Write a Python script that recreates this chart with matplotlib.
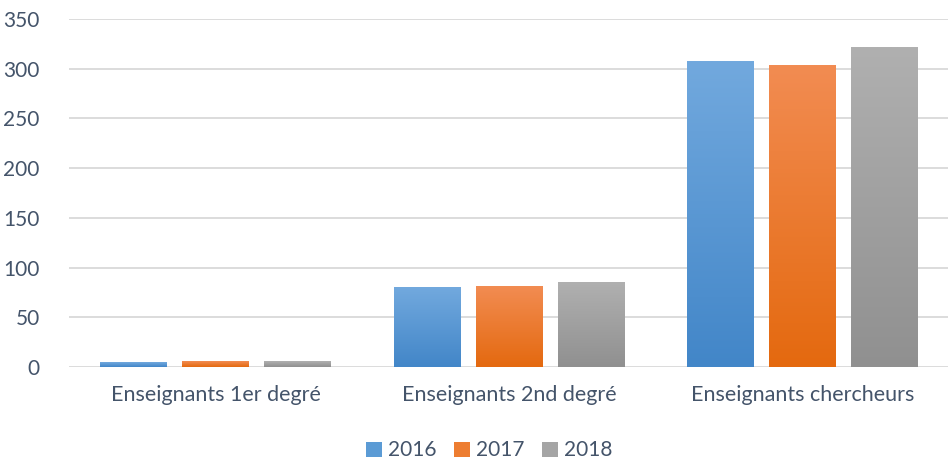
import numpy as np
import matplotlib
matplotlib.use("Agg")
import matplotlib.pyplot as plt
from matplotlib.colors import LinearSegmentedColormap
from matplotlib.patches import Patch

categories = ["Enseignants 1er degré", "Enseignants 2nd degré", "Enseignants chercheurs"]
annees = ["2016", "2017", "2018"]
valeurs_2016 = [5, 80, 307]
valeurs_2017 = [6, 81, 303]
valeurs_2018 = [6, 85, 321]

# couleurs haut / bas du dégradé de chaque série
degrades = [("#72A9DE", "#4286C8"), ("#F28C52", "#E4690F"), ("#B0B0B0", "#909090")]
couleurs_legende = ["#5B9BD5", "#ED7D31", "#A5A5A5"]

plt.rcParams["font.family"] = ["Lato", "DejaVu Sans"]

fig = plt.figure(figsize=(9.48, 4.63), dpi=100)
ax = fig.add_axes([0.0728, 0.207, 0.9285, 0.752])

x = np.arange(len(categories))
pas = 0.279
largeur = 0.228
series = [valeurs_2016, valeurs_2017, valeurs_2018]

for k, vals in enumerate(series):
    cmap = LinearSegmentedColormap.from_list("d%d" % k, [degrades[k][1], degrades[k][0]])
    grad = np.linspace(0, 1, 256).reshape(-1, 1)
    barres = ax.bar(x + (k - 1) * pas, vals, width=largeur, color="none", zorder=3)
    for b in barres:
        x0 = b.get_x()
        h = b.get_height()
        ax.imshow(grad, extent=[x0, x0 + largeur, 0, h], origin="lower",
                  aspect="auto", cmap=cmap, zorder=3)

ax.set_xlim(-0.5, 2.5)
ax.set_ylim(0, 350)
ax.set_yticks(range(0, 351, 50))
ax.set_xticks(x)
ax.set_xticklabels(categories)
ax.grid(axis="y", color="#D9D9D9", linewidth=1.3, zorder=0)
ax.set_axisbelow(True)
for s in ax.spines.values():
    s.set_visible(False)
ax.tick_params(axis="both", length=0, colors="#595959")
ax.tick_params(axis="y", pad=21, labelsize=15)
ax.tick_params(axis="x", pad=13, labelsize=15.5)
for lab in ax.get_yticklabels() + ax.get_xticklabels():
    lab.set_color("#44546A")

poignees = [Patch(facecolor=c, edgecolor="none") for c in couleurs_legende]
leg = fig.legend(poignees, annees, loc="center", bbox_to_anchor=(0.516, 0.027),
                 ncol=3, frameon=False, fontsize=15, handlelength=0.75,
                 handleheight=0.75, handletextpad=0.3, columnspacing=0.85)
for t in leg.get_texts():
    t.set_color("#44546A")

fig.savefig("out.png", dpi=100)
